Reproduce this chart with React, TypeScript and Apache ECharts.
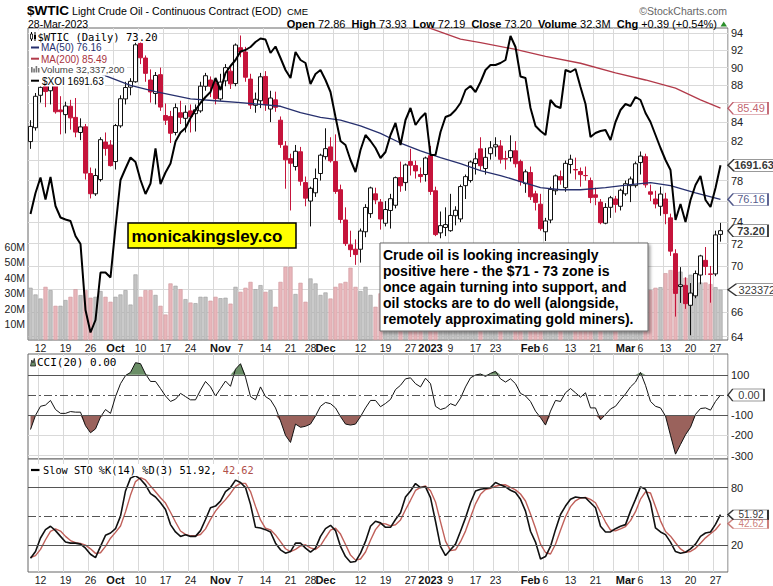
import React, { useEffect, useRef } from 'react';
import * as echarts from 'echarts';

const dates: string[] = [
  '2022-09-08','2022-09-09','2022-09-12','2022-09-13','2022-09-14','2022-09-15','2022-09-16',
  '2022-09-19','2022-09-20','2022-09-21','2022-09-22','2022-09-23','2022-09-26','2022-09-27','2022-09-28','2022-09-29','2022-09-30',
  '2022-10-03','2022-10-04','2022-10-05','2022-10-06','2022-10-07','2022-10-10','2022-10-11','2022-10-12','2022-10-13','2022-10-14',
  '2022-10-17','2022-10-18','2022-10-19','2022-10-20','2022-10-21','2022-10-24','2022-10-25','2022-10-26','2022-10-27','2022-10-28','2022-10-31',
  '2022-11-01','2022-11-02','2022-11-03','2022-11-04','2022-11-07','2022-11-08','2022-11-09','2022-11-10','2022-11-11',
  '2022-11-14','2022-11-15','2022-11-16','2022-11-17','2022-11-18','2022-11-21','2022-11-22','2022-11-23','2022-11-25',
  '2022-11-28','2022-11-29','2022-11-30','2022-12-01','2022-12-02','2022-12-05','2022-12-06','2022-12-07','2022-12-08','2022-12-09',
  '2022-12-12','2022-12-13','2022-12-14','2022-12-15','2022-12-16','2022-12-19','2022-12-20','2022-12-21','2022-12-22','2022-12-23',
  '2022-12-27','2022-12-28','2022-12-29','2022-12-30','2023-01-03','2023-01-04','2023-01-05','2023-01-06',
  '2023-01-09','2023-01-10','2023-01-11','2023-01-12','2023-01-13','2023-01-17','2023-01-18','2023-01-19','2023-01-20',
  '2023-01-23','2023-01-24','2023-01-25','2023-01-26','2023-01-27','2023-01-30','2023-01-31','2023-02-01','2023-02-02','2023-02-03',
  '2023-02-06','2023-02-07','2023-02-08','2023-02-09','2023-02-10','2023-02-13','2023-02-14','2023-02-15','2023-02-16','2023-02-17',
  '2023-02-21','2023-02-22','2023-02-23','2023-02-24','2023-02-27','2023-02-28','2023-03-01','2023-03-02','2023-03-03',
  '2023-03-06','2023-03-07','2023-03-08','2023-03-09','2023-03-10','2023-03-13','2023-03-14','2023-03-15','2023-03-16','2023-03-17',
  '2023-03-20','2023-03-21','2023-03-22','2023-03-23','2023-03-24','2023-03-27','2023-03-28',
];

const open = [81.95,83.40,86.90,88.10,87.40,88.50,85.30,84.80,85.70,84.50,
82.90,83.50,78.70,76.70,78.10,81.90,81.60,79.90,83.60,86.50,
87.80,88.40,92.80,91.10,88.60,87.10,89.20,84.70,84.60,82.90,
85.00,84.40,85.20,84.90,85.20,87.90,88.60,88.20,86.50,88.50,
89.60,88.20,92.30,91.80,88.70,85.80,86.30,89.00,85.40,86.40,
84.20,81.50,80.20,79.40,80.90,77.80,76.00,76.80,78.70,80.40,
81.40,79.90,77.10,74.20,71.90,71.50,71.50,73.10,74.80,76.70,
75.90,73.90,75.10,75.60,78.30,77.80,79.90,79.50,78.60,78.60,
80.50,77.00,73.00,73.50,73.20,74.60,74.30,77.50,78.00,79.70,
81.20,79.20,80.70,81.40,81.50,80.20,80.30,81.00,79.90,77.70,
78.80,76.70,75.70,73.10,74.20,77.00,78.40,77.30,79.60,79.10,
78.90,78.50,78.00,76.60,75.90,73.90,75.40,76.20,75.50,76.70,
77.50,77.50,79.80,80.40,76.90,76.20,75.50,76.20,74.40,71.10,
68.20,68.30,66.60,67.40,69.20,70.50,69.30,69.30,72.86];

const high = [84.20,87.15,88.40,88.90,89.10,88.97,86.80,86.20,86.40,86.60,
84.40,83.80,79.30,79.20,82.40,82.90,82.10,83.80,86.90,88.40,
88.80,92.90,93.64,91.40,89.80,89.50,90.00,86.00,85.20,86.00,
86.30,85.80,85.90,85.90,88.40,89.40,89.00,88.50,89.30,90.40,
90.10,92.80,93.74,92.40,89.30,87.20,89.40,89.60,87.40,87.30,
84.60,82.00,80.70,81.60,81.40,78.40,77.40,79.20,80.70,83.34,
82.40,82.70,77.60,75.40,73.20,72.40,73.40,75.70,77.40,77.30,
76.20,76.00,76.70,78.40,79.90,79.70,81.20,80.00,79.30,80.40,
81.50,77.40,75.00,75.40,76.70,75.50,77.60,78.60,80.00,80.80,
82.40,81.30,82.00,82.40,82.10,81.00,82.60,82.00,80.10,79.10,
79.40,77.00,76.70,74.40,77.40,78.60,79.00,80.00,80.60,80.30,
79.30,79.40,78.30,77.30,76.20,75.80,76.50,76.50,77.20,78.00,
78.40,79.90,80.93,80.70,77.60,77.00,77.40,76.80,74.80,71.50,
69.90,69.00,68.50,69.60,71.00,71.70,70.00,73.20,73.93];

const low = [81.20,83.10,86.10,85.60,85.90,84.90,82.70,82.80,83.20,82.40,
82.10,78.10,76.25,76.50,77.90,80.50,79.40,79.10,83.40,85.90,
86.90,88.30,90.40,88.40,86.10,85.90,85.20,83.70,81.80,82.60,
83.80,82.90,82.90,83.00,85.00,87.40,86.70,85.90,86.30,87.90,
87.60,87.90,91.20,88.40,85.40,85.00,85.50,85.20,84.00,85.10,
81.30,77.20,75.10,79.00,77.50,75.50,73.60,76.40,78.00,80.10,
79.80,76.70,73.90,71.80,70.80,70.10,70.30,72.60,74.40,75.70,
73.30,73.60,73.40,75.30,76.90,77.00,78.50,78.20,77.80,77.90,
76.60,72.70,72.50,72.70,73.10,73.70,74.00,76.20,77.80,78.60,
79.00,78.60,80.10,80.40,79.70,79.10,79.90,79.30,77.50,76.80,
76.10,75.10,73.20,72.25,73.90,76.60,77.60,76.90,78.70,78.10,
77.40,78.00,75.80,75.60,73.80,73.80,74.40,74.90,75.10,76.50,
75.90,77.30,78.60,77.30,76.00,75.30,74.60,73.80,70.90,65.65,
66.80,66.30,64.12,67.20,68.40,69.20,66.82,69.10,72.19];

const close = [83.54,86.79,87.78,87.31,88.48,85.10,85.11,85.73,84.45,82.94,
83.49,78.74,76.71,78.50,82.15,81.23,79.49,83.63,86.52,87.76,
88.45,92.64,91.13,89.35,87.27,89.11,85.61,84.20,82.82,85.55,
84.51,85.05,84.58,85.32,87.91,89.08,87.90,86.53,88.37,90.00,
88.17,92.61,91.79,88.91,85.83,86.47,88.96,85.87,86.60,85.59,
81.64,80.08,79.73,80.95,77.94,76.28,77.24,78.20,80.55,81.22,
79.98,76.93,74.25,72.01,71.46,71.02,73.17,75.39,77.28,76.11,
74.29,75.19,76.23,78.29,77.49,79.56,79.53,78.96,78.40,80.26,
76.93,72.84,73.67,73.77,74.63,75.12,77.41,78.39,79.86,80.18,
79.48,80.33,81.31,81.62,80.13,80.15,81.01,79.68,77.90,78.87,
76.41,75.88,73.39,74.11,77.14,78.47,78.06,79.72,80.14,79.06,
78.59,78.49,76.34,76.36,73.95,75.39,76.32,75.68,77.05,77.69,
78.16,79.68,80.46,77.58,76.66,75.72,76.68,74.80,71.33,67.61,
68.35,66.74,67.64,69.33,70.90,69.96,69.26,72.81,73.20];

const volumeM = [33.6,29.3,26.7,34.2,32.1,22.0,22.0,25.7,27.8,32.7,
28.9,32.1,27.2,27.8,31.5,27.8,24.6,27.8,29.3,32.1,
22.8,42.2,27.8,32.1,32.1,29.0,22.0,16.4,36.4,34.9,
32.7,26.3,24.1,23.7,27.8,27.8,25.3,27.8,26.9,27.2,
23.4,34.2,31.0,33.6,37.4,32.7,35.3,31.0,32.1,21.4,
37.4,47.1,47.1,29.6,36.8,24.6,39.6,36.4,29.0,30.6,
26.7,34.2,36.4,37.4,46.5,34.2,31.5,34.2,29.0,21.4,
30.0,26.0,28.0,31.0,29.0,22.0,24.0,23.0,21.0,25.0,
38.0,40.0,33.0,29.0,28.0,27.0,31.0,30.0,29.0,28.0,
33.0,29.0,26.0,25.0,27.0,26.0,28.0,25.0,30.0,31.0,
35.0,33.0,36.0,34.0,35.0,32.0,29.0,30.0,27.0,28.0,
27.0,25.0,29.0,30.0,33.0,31.0,26.0,27.0,30.0,28.0,
27.0,29.0,31.0,36.0,32.1,33.6,34.0,43.0,45.0,47.0,
44.0,40.0,42.0,42.0,37.0,37.0,36.0,34.0,32.3372];

const xoi = [1594,1636,1667,1623,1668,1610,1587,1583,1580,1550,
1534,1402,1357,1382,1477,1477,1467,1568,1662,1685,
1707,1698,1662,1634,1655,1725,1654,1677,1695,1739,
1757,1766,1786,1802,1816,1828,1838,1866,1842,1876,
1890,1902,1919,1922,1928,1938,1945,1943,1916,1929,
1906,1882,1866,1918,1902,1896,1854,1874,1882,1862,
1838,1788,1740,1732,1702,1678,1722,1752,1740,1726,
1706,1718,1752,1776,1732,1782,1806,1772,1786,1796,
1712,1712,1758,1788,1792,1802,1816,1842,1850,1838,
1858,1882,1892,1892,1896,1902,1950,1928,1869,1866,
1806,1770,1760,1752,1822,1810,1806,1882,1878,1884,
1848,1814,1748,1756,1760,1762,1742,1778,1802,1814,
1810,1828,1822,1796,1778,1752,1726,1702,1682,1582,
1614,1578,1622,1652,1670,1622,1608,1646,1691.63];

// [dayIndex, value]
const ma50Pts = [[10,89.8],[14,89.3],[20,88.0],[25,87.3],[32,86.5],[37,86.3],[42,86.1],[46,85.9],[50,85.7],[54,85.0],
[58,84.5],[62,84.2],[66,83.6],[70,82.8],[74,81.8],[78,81.0],[82,80.3],[86,79.7],[90,79.0],[94,78.5],[98,77.9],
[102,77.3],[106,77.1],[110,77.1],[115,77.3],[120,77.6],[124,77.8],[128,77.5],[133,76.8],[138,76.16]];
const ma200Pts = [[72,96.3],[80,94.6],[86,93.3],[90,92.9],[97,92.1],[103,91.3],[110,90.5],[117,89.4],[123,88.6],
[129,87.7],[134,86.4],[138,85.49]];

const cci = [-171,-101,-56,-50,-27,-72,-91,-91,-82,-85,
-85,-152,-187,-168,-109,-72,-91,-8,56,96,
112,160,155,104,67,67,32,-5,-32,-21,
8,-8,-24,-24,24,67,40,-5,32,69,
43,128,155,88,-8,-24,40,-8,-24,-64,
-128,-200,-235,-144,-160,-155,-144,-104,-56,-37,
-43,-64,-107,-144,-149,-144,-107,-64,-27,-27,
-58,-42,-22,27,48,80,85,56,40,83,
56,-56,-72,-64,-43,-53,-16,40,85,99,
104,92,107,117,80,64,80,56,8,-5,
-32,-80,-112,-149,-80,-27,-32,11,32,11,
-11,11,-64,-64,-123,-96,-69,-56,-24,5,
40,64,112,48,-32,-56,-64,-104,-200,-293,
-245,-197,-160,-96,-67,-64,-75,-32,0];

const stoK = [6.7,13.7,27.7,36.4,39.9,35.4,29.4,23.5,22.4,22.4,
21.4,17.2,10.9,7.4,19,30.5,32.9,37.4,50.4,76.5,
89.8,92.2,88.7,82.8,73.7,70.2,64.3,57.3,41.6,34,
29.4,31.2,29.4,29.4,35.4,46.9,59.1,60.8,66,75.8,
80,87.7,85.2,80,62.6,38.8,38.1,36.4,34,22.4,
15.5,12,13.7,22.4,22.4,17.2,13,17.2,29.4,37.4,
40.9,35.4,19,8.5,2.6,3.3,12,24.2,39.9,45.1,
43.4,38.8,38.8,46.9,53.8,70.2,76.5,84.2,80,80.7,
69.5,45.1,19,9.5,15.5,21.4,34.7,48.6,64.3,76.5,
78.3,79,80,85.2,82.8,80.7,77.2,74.8,67.8,55.6,
34.7,23.5,6,8.5,19,36.4,52.1,60.8,67.8,70.2,
69.5,69.5,64.3,59.1,39.9,34,34,37.4,39.9,41.6,
55.6,67.8,80.7,78.3,64.3,38.1,34,31.2,23.5,13.7,
12,13,16.5,21.4,29.4,32.9,34,41.9,51.92];

const stoD = [7.5,9.5,16.0,25.9,34.7,37.2,34.9,29.4,25.1,22.8,
22.1,20.3,16.5,11.8,12.4,19.0,27.5,33.6,40.2,54.8,
72.2,86.2,90.2,87.9,81.7,75.6,69.4,63.9,54.4,44.3,
35.0,31.5,30.0,30.0,31.4,37.2,47.1,55.6,62.0,67.5,
73.9,81.2,84.3,84.3,75.9,60.5,46.5,37.8,36.2,30.9,
24.0,16.6,13.7,16.0,19.5,20.7,17.5,15.8,19.9,28.0,
35.9,37.9,31.8,21.0,10.0,4.8,6.0,13.2,25.4,36.4,
42.8,42.4,40.3,41.5,46.5,57.0,66.8,77.0,80.2,81.6,
76.7,65.1,44.5,24.5,14.7,15.5,23.9,34.9,49.2,63.1,
73.0,77.9,79.1,81.4,82.7,82.9,80.2,77.6,73.3,66.1,
52.7,37.9,21.4,12.7,11.2,21.3,35.8,49.8,60.2,66.3,
69.2,69.7,67.8,64.3,54.4,44.3,36.0,35.1,37.1,39.6,
45.7,55.0,68.0,75.6,74.4,60.2,45.5,34.4,29.6,22.8,
16.4,12.9,13.8,17.0,22.4,27.9,32.1,36.3,42.62];

const tickDates = ['2022-09-12','2022-09-19','2022-09-26','2022-10-03','2022-10-10','2022-10-17','2022-10-24','2022-11-01',
  '2022-11-07','2022-11-14','2022-11-21','2022-11-28','2022-12-01','2022-12-12','2022-12-19','2022-12-27','2023-01-03',
  '2023-01-09','2023-01-17','2023-01-23','2023-02-01','2023-02-06','2023-02-13','2023-02-21','2023-03-01','2023-03-06',
  '2023-03-13','2023-03-20','2023-03-27'];
const tickLabels = ['12','19','26','Oct','10','17','24','Nov','7','14','21','28','Dec','12','19','27','2023',
  '9','17','23','Feb','6','13','21','Mar','6','13','20','27'];
const boldLabels = ['Oct','Nov','Dec','2023','Feb','Mar'];

const priceGridTicks = [64,66,68,70,72,74,76,78,80,82,84,86,88,90,92,94];
const priceLabelTicks = [64,66,70,72,74,78,82,84,88,90,92,94];
const volumeTicks = [10,20,30,40,50,60];
const cciLabelTicks = [100,-100,-200,-300];
const cciGridTicks = [-200,-300];
const stoLabelTicks = [80,20];

const noteLines = [
  'Crude oil is looking increasingly',
  'positive here - the $71 - 73 zone is',
  'once again turning into support, and',
  'oil stocks are to do well (alongside,',
  'remotely approximating gold miners).',
];

const FONT = '"Liberation Sans", Arial, sans-serif';
const MONO = '"DejaVu Sans Mono", monospace';

function buildOption(): any {
  const N = dates.length;
  const cats = [...dates, 'pad'];
  const last = N - 1;
  const tickMap = new Map<string, string>();
  tickDates.forEach((d, i) => tickMap.set(d, tickLabels[i]));
  const weekStart = new Set<string>();
  dates.forEach((d, i) => {
    if (i === 0) return;
    const cur = new Date(d + 'T00:00:00Z').getUTCDay();
    const prev = new Date(dates[i - 1] + 'T00:00:00Z').getUTCDay();
    if (cur < prev) weekStart.add(d);
  });

  const LN_MIN = 4.15472;
  const LN_MAX = 4.55001;
  const ln = Math.log;

  const candleData = dates.map((_, i) => [ln(open[i]), ln(close[i]), ln(low[i]), ln(high[i])]);
  const volData = volumeM.map((v, i) => ({
    value: v,
    itemStyle: (i > 0 && close[i] < close[i - 1])
      ? { color: '#e8b6ba', borderColor: '#cf959a' }
      : { color: '#c3c3c3', borderColor: '#9a9a9a' },
  }));

  const xAxisBase = (gridIndex: number, showLabel: boolean) => ({
    type: 'category',
    gridIndex,
    data: cats,
    boundaryGap: true,
    axisLine: { show: false },
    axisTick: { show: false },
    splitLine: {
      show: true,
      interval: (_: number, v: string) => weekStart.has(v),
      lineStyle: { color: '#d9d9d9', width: 1 },
    },
    axisLabel: {
      show: showLabel,
      interval: (_: number, v: string) => tickMap.has(v),
      formatter: (v: string) => {
        const l = tickMap.get(v) || '';
        return boldLabels.includes(l) ? `{b|${l}}` : l;
      },
      margin: 2,
      color: '#222',
      fontSize: 10.5,
      fontFamily: FONT,
      rich: { b: { fontWeight: 'bold', fontSize: 11, fontFamily: FONT, color: '#111' } },
    },
  });

  const tag = (name: string, xi: number, yi: number, value: number, text: string, color: string,
    bold: boolean, w: number, h: number, fs = 11) => ({
    type: 'scatter',
    name,
    xAxisIndex: xi,
    yAxisIndex: yi,
    data: [[last, value]],
    symbol: 'path://M0,6L6,0L46,0L46,12L6,12Z',
    symbolSize: [w, h],
    symbolKeepAspect: false,
    symbolOffset: [7.5 + w / 2, 0],
    itemStyle: { color: '#ffffff', borderColor: color, borderWidth: 1 },
    label: {
      show: true,
      position: 'inside',
      formatter: text,
      color,
      fontWeight: bold ? 'bold' : 'normal',
      fontSize: fs,
      lineHeight: fs - 1,
      fontFamily: FONT,
      offset: [3, 0],
    },
    clip: false,
    silent: true,
    z: 20,
  });

  const hLine = (v: number, dash: boolean) => ({
    yAxis: v,
    lineStyle: { color: '#555', width: 1, type: dash ? [8, 3, 2, 3] : 'solid' },
  });

  const series: any[] = [
    {
      type: 'bar', name: 'Volume', xAxisIndex: 0, yAxisIndex: 1, data: volData,
      barWidth: '82%', itemStyle: { borderWidth: 0.6 }, z: 1, silent: true,
    },
    {
      type: 'candlestick', name: '$WTIC', xAxisIndex: 0, yAxisIndex: 0, data: candleData,
      barWidth: 4,
      itemStyle: { color: '#ffffff', color0: '#c5143b', borderColor: '#111', borderColor0: '#c5143b', borderWidth: 1 },
      z: 3, silent: true,
    },
    {
      type: 'line', name: 'MA(200)', xAxisIndex: 0, yAxisIndex: 0,
      data: ma200Pts.map(([i, v]) => [i, ln(v)]), showSymbol: false, clip: true,
      lineStyle: { color: '#b23a4a', width: 1.3 }, z: 4, silent: true,
    },
    {
      type: 'line', name: 'MA(50)', xAxisIndex: 0, yAxisIndex: 0,
      data: ma50Pts.map(([i, v]) => [i, ln(v)]), showSymbol: false, clip: true,
      lineStyle: { color: '#27306e', width: 1.3 }, z: 4, silent: true,
    },
    {
      type: 'line', name: '$XOI', xAxisIndex: 0, yAxisIndex: 2, data: xoi,
      showSymbol: false, lineStyle: { color: '#000', width: 2 }, z: 5, silent: true,
    },
    tag('t200', 0, 0, ln(85.49), '85.49', '#b23a4a', false, 40, 12),
    tag('tXoi', 0, 2, 1691.63, '1691.63', '#000', true, 46, 12),
    tag('t50', 0, 0, ln(76.16), '76.16', '#27306e', false, 40, 12),
    tag('tPx', 0, 0, ln(73.20), '73.20', '#000', true, 40, 12),
    tag('tVol', 0, 1, 32.3372, '32337200', '#000', false, 64, 12),
    // CCI fills
    {
      type: 'line', name: 'cciPosBase', xAxisIndex: 1, yAxisIndex: 3, stack: 'pos', stackStrategy: 'all',
      data: cci.map(() => 100), showSymbol: false, lineStyle: { opacity: 0 }, silent: true, z: 2,
    },
    {
      type: 'line', name: 'cciPosFill', xAxisIndex: 1, yAxisIndex: 3, stack: 'pos', stackStrategy: 'all',
      data: cci.map((v) => Math.max(v - 100, 0)), showSymbol: false, lineStyle: { opacity: 0 },
      areaStyle: { color: '#6b8f67', opacity: 1 }, silent: true, z: 2,
    },
    {
      type: 'line', name: 'cciNegBase', xAxisIndex: 1, yAxisIndex: 3, stack: 'neg', stackStrategy: 'all',
      data: cci.map(() => -100), showSymbol: false, lineStyle: { opacity: 0 }, silent: true, z: 2,
    },
    {
      type: 'line', name: 'cciNegFill', xAxisIndex: 1, yAxisIndex: 3, stack: 'neg', stackStrategy: 'all',
      data: cci.map((v) => Math.min(v + 100, 0)), showSymbol: false, lineStyle: { opacity: 0 },
      areaStyle: { color: '#9a625c', opacity: 1 }, silent: true, z: 2,
    },
    {
      type: 'line', name: 'CCI(20)', xAxisIndex: 1, yAxisIndex: 3, data: cci, showSymbol: false,
      lineStyle: { color: '#111', width: 1 }, z: 4, silent: true,
      markLine: {
        silent: true, symbol: 'none', label: { show: false }, animation: false,
        data: [hLine(100, false), hLine(0, true), hLine(-100, false)],
      },
    },
    tag('tCci', 1, 3, 0, '0.00', '#000', false, 36, 12),
    {
      type: 'line', name: '%D', xAxisIndex: 2, yAxisIndex: 4, data: stoD, showSymbol: false,
      lineStyle: { color: '#c0605a', width: 1.4 }, z: 3, silent: true,
      markLine: {
        silent: true, symbol: 'none', label: { show: false }, animation: false,
        data: [hLine(80, false), hLine(50, true), hLine(20, false)],
      },
    },
    {
      type: 'line', name: '%K', xAxisIndex: 2, yAxisIndex: 4, data: stoK, showSymbol: false,
      lineStyle: { color: '#111', width: 1.6 }, z: 4, silent: true,
    },
    tag('tD', 2, 4, 42.62, '42.62', '#c0605a', false, 40, 9.5, 10),
    tag('tK', 2, 4, 51.92, '51.92', '#000', false, 40, 9.5, 10),
  ];

  const txt = (x: number, y: number, text: string, opts: any = {}) => ({
    type: 'text', x, y, z: opts.z || 60, silent: true,
    style: {
      text, fill: opts.fill || '#000', fontSize: opts.size || 11, fontFamily: opts.family || FONT,
      fontWeight: opts.weight || 'normal', textAlign: opts.align || 'left', textVerticalAlign: 'middle',
    },
  });
  const rect = (x: number, y: number, w: number, h: number, style: any, z = 58) => ({
    type: 'rect', z, silent: true, shape: { x, y, width: w, height: h }, style,
  });
  const line = (x1: number, y1: number, x2: number, y2: number, stroke: string, lw: number) => ({
    type: 'line', z: 60, silent: true, shape: { x1, y1, x2, y2 }, style: { stroke, lineWidth: lw },
  });

  const rb = { fontWeight: 'bold', fontSize: 11, fontFamily: FONT, fill: '#000' };
  const rn = { fontWeight: 'normal', fontSize: 11, fontFamily: FONT, fill: '#000' };

  const graphic: any[] = [
    // header
    txt(27, 10, '$WTIC', { size: 13.5, weight: 'bold' }),
    txt(72, 11, 'Light Crude Oil - Continuous Contract (EOD)', { size: 10.6 }),
    txt(287, 11.5, 'CME', { size: 9.5 }),
    txt(28, 23.5, '28-Mar-2023', { size: 10.5 }),
    txt(727, 10.5, '\u00A9StockCharts.com', { size: 10.5, fill: '#666', align: 'right' }),
    {
      type: 'text', x: 717, y: 23.5, z: 60, silent: true,
      style: {
        text: '{b|Open}{n| 72.86  }{b|High}{n| 73.93  }{b|Low}{n| 72.19  }{b|Close}{n| 73.20  }{b|Volume}{n| 32.3M  }{b|Chg}{n| +0.39 (+0.54%)}',
        textAlign: 'right', textVerticalAlign: 'middle', fontSize: 11, fontFamily: FONT,
        rich: { b: rb, n: rn },
      },
    },
    { type: 'polygon', z: 60, silent: true, shape: { points: [[720.5, 26.5], [727, 26.5], [723.7, 21.5]] }, style: { fill: '#2a8f2a' } },

    // main legend
    rect(29, 30.5, 130, 12, { fill: '#fff' }),
    rect(29, 42.5, 75, 11, { fill: '#fff' }),
    rect(29, 53.5, 82, 11, { fill: '#fff' }),
    rect(29, 64.5, 98, 11, { fill: '#fff' }),
    rect(29, 75.5, 76, 11, { fill: '#fff' }),
    line(31.5, 32, 31.5, 41, '#000', 1),
    rect(30.5, 34, 2, 5, { fill: '#fff', stroke: '#000', lineWidth: 0.8 }, 61),
    line(35, 32, 35, 41, '#000', 1),
    rect(34, 35, 2, 4, { fill: '#000' }, 61),
    txt(37.5, 36.8, '$WTIC (Daily) 73.20', { size: 10.5, family: MONO }),
    line(31, 47.5, 39, 47.5, '#27306e', 2),
    txt(41, 47.8, 'MA(50) 76.16', { size: 10, fill: '#27306e' }),
    line(31, 58.7, 39, 58.7, '#b23a4a', 2),
    txt(41, 59, 'MA(200) 85.49', { size: 10, fill: '#a8323e' }),
    rect(31, 67, 1.6, 5.5, { fill: '#777' }, 61),
    rect(33.3, 68.5, 1.6, 4, { fill: '#777' }, 61),
    rect(35.6, 66, 1.6, 6.5, { fill: '#777' }, 61),
    rect(37.9, 68, 1.6, 4.5, { fill: '#777' }, 61),
    txt(41, 69.6, 'Volume 32,337,200', { size: 9.7, fill: '#444' }),
    line(31, 80.7, 39, 80.7, '#000', 2),
    txt(42, 81, '$XOI 1691.63', { size: 10 }),

    // CCI legend
    rect(29, 356, 92, 12, { fill: '#fff' }),
    { type: 'polygon', z: 61, silent: true, shape: { points: [[30.5, 366], [31.8, 360], [33, 363], [34.3, 358.5], [35.6, 366]] }, style: { fill: '#6b8f67', stroke: '#222', lineWidth: 0.8 } },
    txt(37, 362, 'CCI(20) 0.00', { size: 11, family: MONO }),

    // STO legend
    rect(29, 464, 214, 12, { fill: '#fff' }),
    line(31, 470, 39.5, 470, '#000', 2.2),
    {
      type: 'text', x: 43, y: 470, z: 60, silent: true,
      style: {
        text: '{k|Slow STO %K(14) %D(3) 51.92, }{d|42.62}',
        textVerticalAlign: 'middle', fontSize: 10.3, fontFamily: MONO,
        rich: {
          k: { fontSize: 10.3, fontFamily: MONO, fill: '#000' },
          d: { fontSize: 10.3, fontFamily: MONO, fill: '#b0504a' },
        },
      },
    },

    // yellow site box
    rect(128, 223, 168, 25, { fill: '#ffff00', stroke: '#000', lineWidth: 1.5 }, 62),
    txt(131.5, 236, 'monicakingsley.co', { size: 17, weight: 'bold', z: 64 }),

    // note box
    rect(380, 243, 268, 88, {
      fill: '#fff', stroke: '#666', lineWidth: 1,
      shadowBlur: 3, shadowColor: 'rgba(0,0,0,0.35)', shadowOffsetX: 2, shadowOffsetY: 2,
    }, 62),
    {
      type: 'text', x: 383, y: 247, z: 64, silent: true,
      style: {
        text: noteLines.join('\n'), fill: '#000', fontSize: 14, fontWeight: 'bold', fontFamily: FONT,
        lineHeight: 16, textVerticalAlign: 'top',
      },
    },
  ];

  return {
    animation: false,
    backgroundColor: '#ffffff',
    textStyle: { fontFamily: FONT },
    grid: [
      { left: 28, width: 700, top: 28, height: 312, show: true, borderColor: '#666', borderWidth: 1, backgroundColor: '#fff' },
      { left: 28, width: 700, top: 354, height: 105, show: true, borderColor: '#666', borderWidth: 1, backgroundColor: '#fff' },
      { left: 28, width: 700, top: 459, height: 113, show: true, borderColor: '#666', borderWidth: 1, backgroundColor: '#fff' },
    ],
    xAxis: [xAxisBase(0, true), xAxisBase(1, false), xAxisBase(2, true)],
    yAxis: [
      {
        type: 'value', gridIndex: 0, position: 'right', min: LN_MIN, max: LN_MAX, scale: true,
        axisLine: { show: false },
        axisTick: { show: false, customValues: priceGridTicks.map((v) => ln(v)) },
        axisLabel: {
          customValues: priceLabelTicks.map((v) => ln(v)),
          formatter: (v: number) => String(Math.round(Math.exp(v))),
          margin: 3, color: '#222', fontSize: 11, lineHeight: 10, fontFamily: FONT,
        },
        splitLine: { show: true, lineStyle: { color: '#d9d9d9', width: 1 } },
      },
      {
        type: 'value', gridIndex: 0, position: 'left', min: 0, max: 200.8,
        axisLine: { show: false }, axisTick: { show: false, customValues: volumeTicks },
        axisLabel: {
          customValues: volumeTicks, formatter: (v: number) => `${v}M`,
          margin: 3, color: '#222', fontSize: 10.5, fontFamily: FONT,
        },
        splitLine: { show: false },
      },
      { type: 'value', gridIndex: 0, min: 1342, max: 1966, show: false, splitLine: { show: false } },
      {
        type: 'value', gridIndex: 1, position: 'right', min: -317, max: 203,
        axisLine: { show: false },
        axisTick: { show: false, customValues: cciGridTicks },
        axisLabel: { customValues: cciLabelTicks, margin: 3, color: '#222', fontSize: 11, fontFamily: FONT },
        splitLine: { show: true, lineStyle: { color: '#d9d9d9', width: 1 } },
      },
      {
        type: 'value', gridIndex: 2, position: 'right', min: -7.5, max: 109.6,
        axisLine: { show: false },
        axisTick: { show: false, customValues: stoLabelTicks },
        axisLabel: { customValues: stoLabelTicks, margin: 3, color: '#222', fontSize: 11, fontFamily: FONT },
        splitLine: { show: false },
      },
    ],
    series,
    graphic,
  };
}

export default function App() {
  const ref = useRef<HTMLDivElement>(null);
  useEffect(() => {
    document.body.style.margin = '0';
    if (!ref.current) return;
    const chart = echarts.init(ref.current, null, { renderer: 'svg' });
    chart.setOption(buildOption());
    return () => chart.dispose();
  }, []);
  return <div ref={ref} style={{ width: 773, height: 586, background: '#fff' }} />;
}
